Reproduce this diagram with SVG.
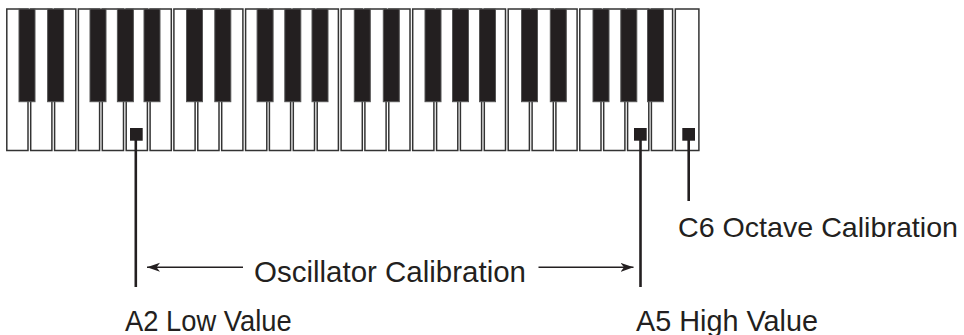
<svg xmlns="http://www.w3.org/2000/svg" width="964" height="335" viewBox="0 0 964 335">
  <style>
    .w { fill: #ffffff; stroke: #333333; stroke-width: 1.5; }
    .b { fill: #231f20; stroke: #555555; stroke-width: 1; }
    .mk { fill: #231f20; }
    .lead { stroke: #231f20; stroke-width: 2.6; fill: none; }
    .arr { stroke: #231f20; stroke-width: 1.5; fill: none; marker-end: url(#ah); }
    .t { font-family: "Liberation Sans", Arial, sans-serif; font-size: 30px; fill: #231f20; }
  </style>
  <defs>
    <marker id="ah" markerWidth="14" markerHeight="10" refX="13" refY="5" orient="auto" markerUnits="userSpaceOnUse">
      <path d="M0,0.5 L13,5 L0,9.5 L3.5,5 Z" fill="#231f20"/>
    </marker>
  </defs>

  <g id="keyboard">
    <g id="white-keys">
      <rect class="w" x="6.8" y="9" width="21.2" height="141.5"/>
      <rect class="w" x="30.7" y="9" width="21.2" height="141.5"/>
      <rect class="w" x="54.6" y="9" width="21.2" height="141.5"/>
      <rect class="w" x="78.4" y="9" width="21.2" height="141.5"/>
      <rect class="w" x="102.3" y="9" width="21.2" height="141.5"/>
      <rect class="w" x="126.2" y="9" width="21.2" height="141.5"/>
      <rect class="w" x="150.1" y="9" width="21.2" height="141.5"/>
      <rect class="w" x="173.9" y="9" width="21.2" height="141.5"/>
      <rect class="w" x="197.8" y="9" width="21.2" height="141.5"/>
      <rect class="w" x="221.7" y="9" width="21.2" height="141.5"/>
      <rect class="w" x="245.6" y="9" width="21.2" height="141.5"/>
      <rect class="w" x="269.4" y="9" width="21.2" height="141.5"/>
      <rect class="w" x="293.3" y="9" width="21.2" height="141.5"/>
      <rect class="w" x="317.2" y="9" width="21.2" height="141.5"/>
      <rect class="w" x="341.1" y="9" width="21.2" height="141.5"/>
      <rect class="w" x="364.9" y="9" width="21.2" height="141.5"/>
      <rect class="w" x="388.8" y="9" width="21.2" height="141.5"/>
      <rect class="w" x="412.7" y="9" width="21.2" height="141.5"/>
      <rect class="w" x="436.6" y="9" width="21.2" height="141.5"/>
      <rect class="w" x="460.4" y="9" width="21.2" height="141.5"/>
      <rect class="w" x="484.3" y="9" width="21.2" height="141.5"/>
      <rect class="w" x="508.2" y="9" width="21.2" height="141.5"/>
      <rect class="w" x="532.1" y="9" width="21.2" height="141.5"/>
      <rect class="w" x="555.9" y="9" width="21.2" height="141.5"/>
      <rect class="w" x="579.8" y="9" width="21.2" height="141.5"/>
      <rect class="w" x="603.7" y="9" width="21.2" height="141.5"/>
      <rect class="w" x="627.6" y="9" width="21.2" height="141.5"/>
      <rect class="w" x="651.4" y="9" width="21.2" height="141.5"/>
      <rect class="w" x="675.3" y="9" width="23.6" height="141.5"/>
    </g>
    <g id="black-keys">
      <rect class="b" x="19" y="9" width="16" height="92.7"/>
      <rect class="b" x="47.6" y="9" width="16" height="92.7"/>
      <rect class="b" x="90" y="9" width="16" height="92.7"/>
      <rect class="b" x="117.4" y="9" width="16" height="92.7"/>
      <rect class="b" x="144" y="9" width="16" height="92.7"/>
      <rect class="b" x="186.5" y="9" width="16" height="92.7"/>
      <rect class="b" x="214.8" y="9" width="16" height="92.7"/>
      <rect class="b" x="257.1" y="9" width="16" height="92.7"/>
      <rect class="b" x="284.8" y="9" width="16" height="92.7"/>
      <rect class="b" x="312" y="9" width="16" height="92.7"/>
      <rect class="b" x="354.3" y="9" width="16" height="92.7"/>
      <rect class="b" x="383.3" y="9" width="16" height="92.7"/>
      <rect class="b" x="425" y="9" width="16" height="92.7"/>
      <rect class="b" x="452.5" y="9" width="16" height="92.7"/>
      <rect class="b" x="479.5" y="9" width="16" height="92.7"/>
      <rect class="b" x="521.5" y="9" width="16" height="92.7"/>
      <rect class="b" x="550.3" y="9" width="16" height="92.7"/>
      <rect class="b" x="593" y="9" width="16" height="92.7"/>
      <rect class="b" x="620.8" y="9" width="16" height="92.7"/>
      <rect class="b" x="647.5" y="9" width="16" height="92.7"/>
    </g>
  </g>

  <g id="a2-low-value">
    <rect class="mk" x="130" y="128" width="12.7" height="12.7"/>
    <text class="t" x="125" y="330.5" textLength="166.7" lengthAdjust="spacingAndGlyphs">A2 Low Value</text>
  </g>
  <g id="a5-high-value">
    <rect class="mk" x="634" y="128" width="12.7" height="12.7"/>
    <text class="t" x="636" y="330.5" textLength="182" lengthAdjust="spacingAndGlyphs">A5 High Value</text>
  </g>
  <g id="c6-octave-calibration">
    <rect class="mk" x="682.3" y="128" width="12.7" height="12.7"/>
    <text class="t" x="678" y="236.7" style="font-size:28px" textLength="280" lengthAdjust="spacingAndGlyphs">C6 Octave Calibration</text>
  </g>
  <g id="oscillator-calibration">
    <text class="t" x="254" y="281.7" textLength="272" lengthAdjust="spacingAndGlyphs">Oscillator Calibration</text>
  </g>

  <g id="connectors">
    <line class="lead" x1="135.8" y1="140" x2="135.8" y2="287"/>
    <line class="lead" x1="640.5" y1="140" x2="640.5" y2="287"/>
    <line class="lead" x1="688.7" y1="140" x2="688.7" y2="201"/>
    <line class="arr" x1="243" y1="267.3" x2="147" y2="267.3"/>
    <line class="arr" x1="538.5" y1="267.3" x2="633.5" y2="267.3"/>
  </g>
</svg>
